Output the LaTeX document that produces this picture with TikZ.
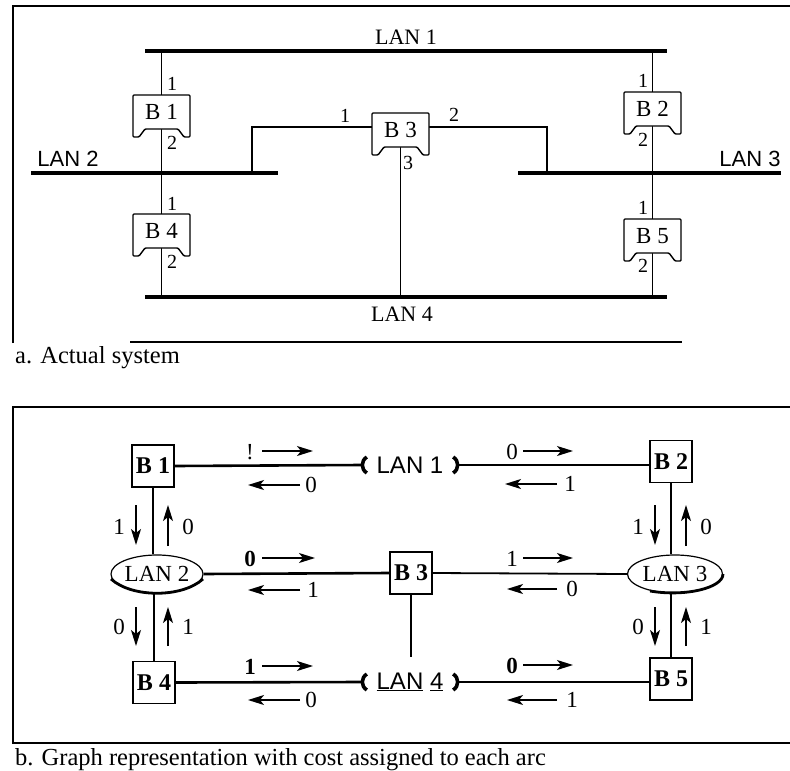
\documentclass[tikz,border=0pt]{standalone}
\usepackage{fontspec}
\setmainfont{Liberation Serif}
\newfontfamily\lansans{Liberation Sans}
\usetikzlibrary{arrows.meta,shapes.geometric,calc}
\pgfdeclarelayer{bg}
\pgfsetlayers{bg,main}
\tikzset{
  bus/.style={line width=3.2pt},
  wire/.style={line width=1.8pt},
  gwire/.style={line width=2.6pt},
  frame/.style={line width=1.3pt},
  costarr/.style={line width=1.5pt,-{Stealth[length=16pt,width=10pt,inset=4pt]}},
  bracket/.style={line width=3.6pt},
  lbl/.style={inner sep=0pt,font=\fontsize{23}{23}\selectfont},
  port/.style={inner sep=0pt,font=\fontsize{20}{20}\selectfont},
  cost/.style={inner sep=0pt,font=\fontsize{23}{23}\selectfont},
  boldcost/.style={cost,font=\bfseries\fontsize{23}{23}\selectfont},
  lanserif/.style={inner sep=0pt,font=\fontsize{22}{22}\selectfont},
  lansansA/.style={inner sep=0pt,font=\lansans\fontsize{22}{22}\selectfont},
  lansansB/.style={inner sep=0pt,font=\lansans\fontsize{24}{24}\selectfont,minimum width=96pt,minimum height=30pt},
  lanell/.style={ellipse,draw,line width=1.2pt,fill=white,inner sep=0pt,minimum height=38pt,font=\fontsize{23}{23}\selectfont},
  bbox/.style={draw,line width=1.4pt,fill=white,minimum width=42pt,minimum height=42pt,inner sep=0pt,font=\bfseries\fontsize{24}{24}\selectfont},
  anchorbox/.style={minimum width=57pt,minimum height=42pt,inner sep=0pt},
  caption/.style={anchor=base west,inner sep=0pt,font=\fontsize{24.5}{24.5}\selectfont}
}
\newcommand\bridgeA[4]{%
  \draw[line width=1.4pt,fill=white,rounded corners=1pt] (#2,#3) -- ++(57,0) -- ++(0,42) -- ++(-6,0) -- ++(-6,-8) -- ++(-33,0) -- ++(-6,8) -- ++(-6,0) -- cycle;
  \node[anchorbox] (#1) at (#2+28.5,#3+21) {};
  \node[lbl] (#1l) at (#2+28.5,#3+17) {#4};
}
\begin{document}
\begin{tikzpicture}[x=1pt,y=-1pt]
\useasboundingbox (0,0) rectangle (790,771);

% ================= part a =================
\draw[frame] (13,343) -- (13,6) -- (790,6);
\draw[frame] (130,342) -- (682,342);
\node[caption] (capA) at (15,363) {a. Actual system};

\coordinate (L1w) at (145,51); \coordinate (L1e) at (667,51);
\coordinate (L2w) at (31,173); \coordinate (L2e) at (278,173);
\coordinate (L3w) at (518,173); \coordinate (L3e) at (781,173);
\coordinate (L4w) at (145,297); \coordinate (L4e) at (667,297);
\coordinate (J2) at (252,173); \coordinate (J3) at (547,173);

\bridgeA{b1a}{133}{95}{B 1}
\bridgeA{b4a}{133}{214}{B 4}
\bridgeA{b2a}{624}{92}{B 2}
\bridgeA{b5a}{624}{219}{B 5}
\bridgeA{b3a}{372}{113}{B 3}

\begin{pgfonlayer}{bg}
  \draw[bus] (L1w) -- (L1e);
  \draw[bus] (L2w) -- (L2e);
  \draw[bus] (L3w) -- (L3e);
  \draw[bus] (L4w) -- (L4e);
  \draw[wire] (b1a.north |- L1w) -- (b1a.south |- L4w);
  \draw[wire] (b2a.north |- L1w) -- (b2a.south |- L4w);
  \draw[wire] (b3a.west |- 0,127) -- (J2 |- 0,127) -- (J2);
  \draw[wire] (b3a.east |- 0,127) -- (J3 |- 0,127) -- (J3);
  \draw[wire] (b3a.center) -- (b3a.center |- L4w);
\end{pgfonlayer}

\node[lanserif] (lan1a) at (406,37) {LAN 1};
\node[lansansA] (lan2a) at (68,159) {LAN 2};
\node[lansansA] (lan3a) at (750,159) {LAN 3};
\node[lanserif] (lan4a) at (402,314) {LAN 4};

\node[port] (p11) at (172,84) {1};
\node[port] (p12) at (172,143) {2};
\node[port] (p41) at (172,204) {1};
\node[port] (p42) at (172,262) {2};
\node[port] (p21) at (643,81) {1};
\node[port] (p22) at (643,140) {2};
\node[port] (p51) at (643,208) {1};
\node[port] (p52) at (643,266) {2};
\node[port] (p31) at (345,116) {1};
\node[port] (p32) at (454,115) {2};
\node[port] (p33) at (408,163) {3};

% ================= part b =================
\draw[frame] (790,407) -- (13,407) -- (13,743) -- (790,743);
\node[caption] (capB) at (15,765) {b. Graph representation with cost assigned to each arc};

\node[bbox] (B1) at (153,466) {B 1};
\node[bbox] (B2) at (671,461.5) {B 2};
\node[bbox] (B3) at (411,573) {B 3};
\node[bbox] (B4) at (154,682.5) {B 4};
\node[bbox] (B5) at (671,679) {B 5};
\node[lansansB] (LAN1) at (410,465) {LAN 1};
\node[lansansB] (LAN4) at (410,682) {\underline{LAN} \underline{4}};
\node[lanell,minimum width=92pt] (LAN2) at (157,574) {LAN 2};
\node[lanell,minimum width=95pt] (LAN3) at (675,574) {LAN 3};
\coordinate (L4top) at (411,657);

\begin{pgfonlayer}{bg}
  \draw[gwire] (B1.east) -- (LAN1.west);
  \draw[gwire] (LAN1.east) -- (B2.west |- LAN1.east);
  \draw[wire] (B1.south) -- (B1.south |- LAN2.north);
  \draw[wire] (B4.north |- LAN2.south) -- (B4.north);
  \draw[gwire] (LAN2.east) -- (B3.west);
  \draw[wire] (B3.east) -- (LAN3.west);
  \draw[wire] (B3.south) -- (L4top);
  \draw[gwire] (B4.east) -- (LAN4.west);
  \draw[gwire] (LAN4.east) -- (B5.west |- LAN4.east);
  \draw[wire] (B2.south) -- (B2.south |- LAN3.north);
  \draw[wire] (B5.north |- LAN3.south) -- (B5.north);
\end{pgfonlayer}

% brackets of LAN 1 and LAN 4
\foreach \n in {LAN1,LAN4}{
  \draw[bracket] ($(\n.west)+(5,-8)$) .. controls ($(\n.west)+(-1,-4)$) and ($(\n.west)+(-1,4)$) .. ($(\n.west)+(5,8)$);
  \draw[bracket] ($(\n.east)+(-5,-8)$) .. controls ($(\n.east)+(1,-4)$) and ($(\n.east)+(1,4)$) .. ($(\n.east)+(-5,8)$);
}
% thick lower rims of the ellipses
\draw[line width=2.8pt] ($(LAN2.center)+(-46,5)$) .. controls ($(LAN2.center)+(-25,24)$) and ($(LAN2.center)+(25,24)$) .. ($(LAN2.center)+(46,5)$);
\draw[line width=2.8pt] ($(LAN3.center)+(-25,17)$) .. controls ($(LAN3.center)+(10,23)$) and ($(LAN3.center)+(48,14)$) .. ($(LAN3.center)+(48,0)$);

% horizontal cost arrows
\draw[costarr] (262,451) -- (313,451); \node[cost] (c1) at (250,452) {!};
\draw[costarr] (300,485) -- (248,485); \node[cost] (c2) at (311,485) {0};
\draw[costarr] (523,451) -- (573,451); \node[cost] (c3) at (512,452) {0};
\draw[costarr] (557,484) -- (505,484); \node[cost] (c4) at (570,484) {1};

\draw[costarr] (262,558) -- (315,558); \node[boldcost] (c5) at (250,559) {0};
\draw[costarr] (300,590) -- (248,590); \node[cost] (c6) at (313,590) {1};
\draw[costarr] (523,558) -- (573,558); \node[cost] (c7) at (512,559) {1};
\draw[costarr] (557,589) -- (507,589); \node[cost] (c8) at (572,589) {0};

\draw[costarr] (262,666) -- (313,666); \node[boldcost] (c9) at (250,667) {1};
\draw[costarr] (300,700) -- (248,700); \node[cost] (c10) at (311,700) {0};
\draw[costarr] (523,665) -- (573,665); \node[boldcost] (c11) at (512,666) {0};
\draw[costarr] (557,700) -- (507,700); \node[cost] (c12) at (572,700) {1};

% vertical cost arrows
\draw[costarr] (136,505) -- (136,545); \node[cost] (v1) at (119,527) {1};
\draw[costarr] (168,546) -- (168,505); \node[cost] (v2) at (188,527) {0};
\draw[costarr] (136,607) -- (136,646); \node[cost] (v3) at (119,627) {0};
\draw[costarr] (168,646) -- (168,607); \node[cost] (v4) at (188,627) {1};
\draw[costarr] (655,505) -- (655,545); \node[cost] (v5) at (638,527) {1};
\draw[costarr] (686,546) -- (686,505); \node[cost] (v6) at (706,527) {0};
\draw[costarr] (655,607) -- (655,646); \node[cost] (v7) at (638,627) {0};
\draw[costarr] (686,646) -- (686,607); \node[cost] (v8) at (706,627) {1};
\end{tikzpicture}
\end{document}
